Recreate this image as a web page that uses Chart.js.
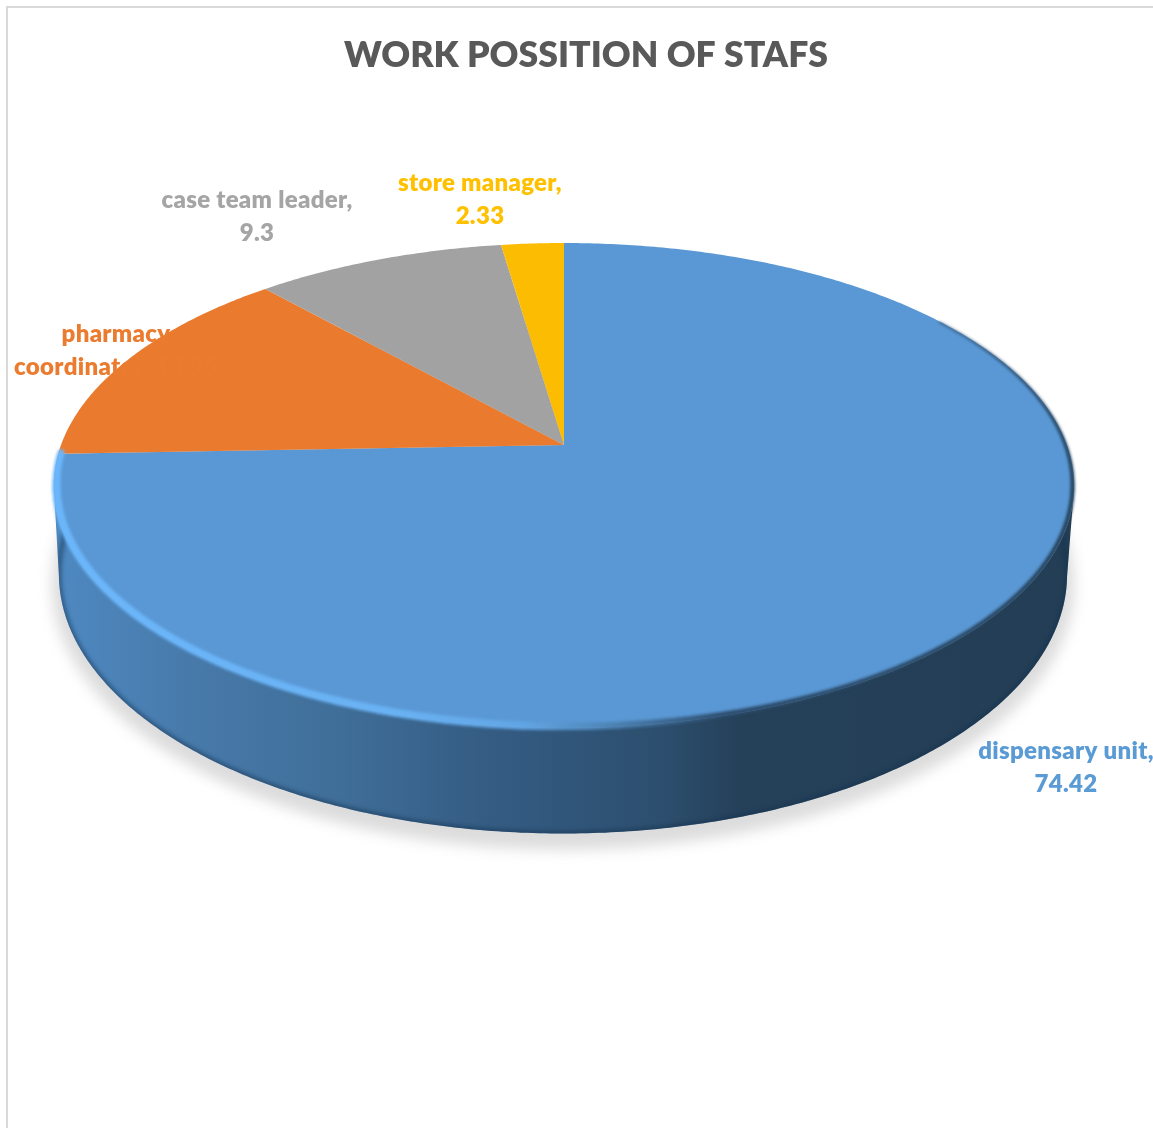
<!DOCTYPE html>
<html>
<head>
<meta charset="utf-8">
<title>Work position of staffs</title>
<script src="https://cdn.jsdelivr.net/npm/chart.js@4/dist/chart.umd.min.js"></script>
<style>
  html, body { margin: 0; background: #fff; }
  canvas { display: block; }
</style>
</head>
<body>
<canvas id="chartPie" width="1153" height="1128"></canvas>
<script>
// ==== Data ====
const categories = ['dispensary unit', 'pharmacy coordinator', 'case team leader', 'store manager'];
const percentages = [74.42, 13.95, 9.3, 2.33];
const sliceColors = ['#5a98d5', '#ea7b2e', '#a2a2a2', '#fbbc02'];
const labelColors = ['#5b9bd5', '#eb7c2f', '#a5a5a5', '#ffc000'];
const titleText = 'WORK POSSITION OF STAFS';

// ==== 3D view of the disc ====
const view = { cx: 564, cy: 445, rx: 503, ry: 235.7, tilt: -0.167 };
const floor = { cx: 563, cy: 531, rx: 497, ry: 252, tilt: -0.167 };
const labelSpots = [
  { x: 1066, y: 759 },
  { x: 116, y: 342 },
  { x: 257, y: 208 },
  { x: 480, y: 191 }
];
const labelFont = '800 24px Lato';
const labelSpacing = '0.3px';
const labelLineGap = 33;
const labelWrap = 214;

// the wall runs between the two side tangents of the disc
const wallFrom = Math.PI * 10 / 180;
const wallTo = Math.PI * 170 / 180;

function project(p, angle, r = 1) {
  const u = Math.cos(angle) * r;
  const v = Math.sin(angle) * r;
  const w = 1 + p.tilt * v;
  return { x: p.cx + p.rx * u / w, y: p.cy + p.ry * v / w };
}

function traceCurve(ctx, p, from, to, useLine) {
  const steps = Math.max(2, Math.ceil(Math.abs(to - from) / 0.01));
  for (let i = 0; i <= steps; i++) {
    const q = project(p, from + (to - from) * i / steps);
    if (i === 0 && !useLine) ctx.moveTo(q.x, q.y);
    else ctx.lineTo(q.x, q.y);
  }
}

function wallGradient(ctx) {
  const g = ctx.createLinearGradient(57, 0, 1073, 0);
  [[0, '#4e89c1'], [0.14, '#4779a9'], [0.28, '#3f6e98'], [0.39, '#376088'],
   [0.5, '#30567a'], [0.59, '#2d4f6f'], [0.675, '#254059'], [1, '#233e55']]
    .forEach(s => g.addColorStop(s[0], s[1]));
  return g;
}

function drawShadow(ctx) {
  const soft = { ...floor, cy: floor.cy + 9, rx: floor.rx + 7, ry: floor.ry + 6 };
  ctx.save();
  ctx.filter = 'blur(7px)';
  ctx.fillStyle = '#dcdcdc';
  ctx.beginPath();
  traceCurve(ctx, soft, 0, Math.PI * 2);
  ctx.closePath();
  ctx.fill();
  ctx.restore();
}

function wallPath(ctx) {
  ctx.beginPath();
  traceCurve(ctx, floor, wallFrom, wallTo);
  traceCurve(ctx, view, wallTo, wallFrom, true);
  ctx.closePath();
}

function drawWall(ctx) {
  wallPath(ctx);
  ctx.fillStyle = wallGradient(ctx);
  ctx.fill();

  // darker lip along the bottom edge
  ctx.save();
  wallPath(ctx);
  ctx.clip();
  ctx.filter = 'blur(2px)';
  ctx.strokeStyle = 'rgba(20, 50, 80, 0.55)';
  ctx.lineWidth = 5;
  ctx.beginPath();
  traceCurve(ctx, floor, wallFrom - 0.3, wallTo + 0.3);
  ctx.stroke();
  ctx.restore();
}

function drawSlices(ctx, arcs) {
  arcs.forEach(arc => {
    ctx.beginPath();
    ctx.moveTo(view.cx, view.cy);
    traceCurve(ctx, view, arc.startAngle, arc.endAngle, true);
    ctx.closePath();
    ctx.fillStyle = arc.options.backgroundColor;
    ctx.fill();
  });
}

// bevel on the rim of the biggest slice: bright on the left, dark on the right
function drawRim(ctx, arc) {
  const layer = document.createElement('canvas');
  layer.width = ctx.canvas.width;
  layer.height = ctx.canvas.height;
  const lc = layer.getContext('2d');
  const g = lc.createLinearGradient(53, 0, 1073, 0);
  [[0, '#6bb6fa'], [0.34, '#69b1f2'], [0.46, '#62a5e4'], [0.54, '#4f86b8'],
   [0.66, '#2c4c6c'], [1, '#233e55']]
    .forEach(s => g.addColorStop(s[0], s[1]));
  lc.strokeStyle = g;
  lc.lineCap = 'round';
  const from = Math.max(arc.startAngle, -Math.PI * 35 / 180);
  const step = 0.01;
  for (let a = from; a < arc.endAngle; a += step) {
    const v = Math.sin(a);
    const t = Math.min(1, Math.max(0, (v + 0.6) / 0.8));
    // thin on the right side, widening towards the left
    const side = Math.min(1, Math.max(0, (0.5 - Math.cos(a)) / 0.6));
    const r = 0.997 - 0.002 * side;
    const p0 = project(view, a, r);
    const p1 = project(view, a + step, r);
    lc.lineWidth = (1 + 3 * t) * (1 - side) + (2 + 6 * t) * side;
    lc.beginPath();
    lc.moveTo(p0.x, p0.y);
    lc.lineTo(p1.x, p1.y);
    lc.stroke();
  }
  ctx.save();
  ctx.filter = 'blur(1.5px)';
  ctx.drawImage(layer, 0, 0);
  ctx.restore();
}

function wrapLabel(ctx, text) {
  const lines = [];
  let line = '';
  text.split(' ').forEach(word => {
    const next = line ? line + ' ' + word : word;
    if (line && ctx.measureText(next).width > labelWrap) {
      lines.push(line);
      line = word;
    } else {
      line = next;
    }
  });
  lines.push(line);
  return lines;
}

function drawLabels(ctx) {
  ctx.save();
  ctx.font = labelFont;
  ctx.letterSpacing = labelSpacing;
  ctx.textAlign = 'center';
  ctx.textBaseline = 'alphabetic';
  categories.forEach((name, i) => {
    ctx.fillStyle = labelColors[i];
    wrapLabel(ctx, name + ', ' + percentages[i]).forEach((line, n) => {
      ctx.fillText(line, labelSpots[i].x, labelSpots[i].y + n * labelLineGap);
    });
  });
  ctx.restore();
}

// ==== Plugin: frame and tilted pie ====
const framePlugin = {
  id: 'frame',
  beforeDraw(chart) {
    const ctx = chart.ctx;
    ctx.save();
    ctx.fillStyle = '#fff';
    ctx.fillRect(0, 0, chart.width, chart.height);
    ctx.strokeStyle = '#d9d9d9';
    ctx.lineWidth = 2;
    ctx.strokeRect(7, 7, chart.width + 20, chart.height + 20);
    ctx.restore();
  }
};

const tiltedPiePlugin = {
  id: 'tiltedPie',
  beforeDatasetsDraw(chart) {
    const ctx = chart.ctx;
    const arcs = chart.getDatasetMeta(0).data;
    ctx.save();
    drawShadow(ctx);
    drawWall(ctx);
    drawSlices(ctx, arcs);
    drawRim(ctx, arcs[0]);
    drawLabels(ctx);
    ctx.restore();
    return false;
  }
};

// ==== Chart.js ====
new Chart(document.getElementById('chartPie').getContext('2d'), {
  type: 'pie',
  data: {
    labels: categories,
    datasets: [{
      data: percentages,
      backgroundColor: sliceColors,
      borderWidth: 0
    }]
  },
  options: {
    responsive: false,
    animation: false,
    layout: { padding: { left: 19, top: 34 } },
    plugins: {
      legend: { display: false },
      tooltip: { enabled: false },
      title: {
        display: true,
        text: titleText,
        color: '#595959',
        font: { family: 'Lato', size: 35.6, weight: '800' },
        padding: { top: 0, bottom: 10 }
      }
    }
  },
  plugins: [framePlugin, tiltedPiePlugin]
});
</script>
</body>
</html>
